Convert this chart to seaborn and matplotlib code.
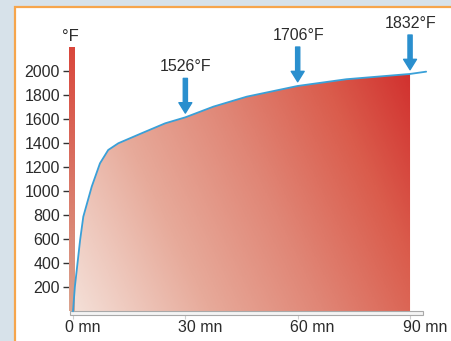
import numpy as np
import matplotlib
matplotlib.use('Agg')
import matplotlib.pyplot as plt
import seaborn as sns
import pandas as pd
from matplotlib.colors import LinearSegmentedColormap
from matplotlib.patches import Rectangle, Polygon
from matplotlib.transforms import ScaledTranslation

# fire curve: time (min) vs temperature (°F)
minutes = [0, 0.5, 1.9, 2.75, 5, 7.2, 9.4, 12.1, 18.3, 24.6, 30, 37.5, 46.4, 60, 73, 90, 94.3]
temps_f = [0, 205, 594, 788, 1038, 1232, 1343, 1399, 1482, 1565, 1615, 1704, 1787, 1876, 1932, 1976, 1995]

mark_minutes = [30, 60, 90]
mark_labels = ['1526°F', '1706°F', '1832°F']

xtick_vals = [0, 30, 60, 90]
xtick_labels = ['0 mn', '30 mn', '60 mn', '90 mn']
ytick_vals = [200, 400, 600, 800, 1000, 1200, 1400, 1600, 1800, 2000]

df = pd.DataFrame({'minutes': minutes, 'temp': temps_f})

sns.set_style('white')
plt.rcParams['font.family'] = ['Liberation Sans', 'DejaVu Sans']

W, H = 452, 341
fig = plt.figure(figsize=(W / 100, H / 100), dpi=100)
fig.patch.set_facecolor('#d7e2ea')

# white panel with orange frame
fig.patches.append(Rectangle((15 / W, -0.1), 1.2, 1 - 7 / H + 0.1, transform=fig.transFigure,
                             facecolor='white', edgecolor='#f6a54c', linewidth=1.6, zorder=-5))

x0, x1, y_bot, y_top = 73, 426, 311.3, 48
ax = fig.add_axes([x0 / W, (H - y_bot) / H, (x1 - x0) / W, (y_bot - y_top) / H])
ax.set_facecolor('none')
xmax = 94.26
ymax = 2192
for s in ax.spines.values():
    s.set_visible(False)

# gradient fill under the curve (0-90 mn)
cmap = LinearSegmentedColormap.from_list(
    'heat', [(0, '#f4e0d8'), (0.3, '#e7aa9a'), (0.55, '#e08676'), (0.8, '#da5c4c'), (1.0, '#d1302e')])
gx, gy = np.meshgrid(np.linspace(0, 90, 300), np.linspace(0, ymax, 300))
grad = 0.78 * gx / 90 + 0.27 * gy / 2000
im = ax.imshow(grad, extent=[0, 90, 0, ymax], origin='lower', cmap=cmap, vmin=0, vmax=1.05,
               aspect='auto', zorder=1)
t_arr = np.array(minutes)
T_arr = np.array(temps_f)
mask = t_arr <= 90
verts = np.column_stack([np.r_[t_arr[mask], 90, 0], np.r_[T_arr[mask], 0, 0]])
clip_poly = Polygon(verts, closed=True, facecolor='none', edgecolor='none', transform=ax.transData)
ax.add_patch(clip_poly)
im.set_clip_path(clip_poly)

sns.lineplot(data=df, x='minutes', y='temp', ax=ax, color='#3aa0d8', linewidth=1.3,
             zorder=4, sort=False, clip_on=False)
ax.set_xlabel('')
ax.set_ylabel('')

# red temperature bar (y axis)
bar_grad = np.linspace(0, 1, 200).reshape(-1, 1)
bar_cmap = LinearSegmentedColormap.from_list('bar', ['#dba48f', '#d9473c'])
ax.imshow(bar_grad, extent=[-1.07, 0.27, 0, ymax], origin='lower', cmap=bar_cmap,
          aspect='auto', zorder=3, clip_on=False)

# grey double bar (x axis)
ax.add_patch(Rectangle((-0.8, -33), 94.3, 33, facecolor='#f4f4f4', edgecolor='#a9a9a9',
                       linewidth=0.8, zorder=3, clip_on=False))

ax.set_xlim(0, xmax)
ax.set_ylim(0, ymax)
ax.set_yticks(ytick_vals)
ax.set_yticklabels([str(v) for v in ytick_vals])
ax.tick_params(axis='y', left=True, length=7.2, width=1.0, color='#333333', pad=2.2,
               labelsize=11.5, labelcolor='#2b2b2b')
ax.set_xticks(xtick_vals)
ax.set_xticklabels(xtick_labels)
ax.tick_params(axis='x', bottom=True, length=5.5, width=0.8, color='#cfcfcf', pad=0.5,
               labelsize=11.5, labelcolor='#2b2b2b')
for lbl in ax.get_xticklabels():
    lbl.set_horizontalalignment('left')
    lbl.set_transform(lbl.get_transform() + ScaledTranslation(-0.075, 0, fig.dpi_scale_trans))

ax.text(0, ymax, '°F', ha='center', va='bottom', fontsize=12, color='#2b2b2b',
        transform=ax.transData + ScaledTranslation(-0.03, 0.04, fig.dpi_scale_trans), clip_on=False)

# arrows with labels
for m, lab in zip(mark_minutes, mark_labels):
    tip = np.interp(m, minutes, temps_f) + 35
    ax.annotate('', xy=(m, tip), xytext=(0, 25), textcoords='offset points',
                arrowprops=dict(arrowstyle='simple,head_length=0.5,head_width=0.62,tail_width=0.2',
                                color='#2a8fce', shrinkA=0, shrinkB=0, mutation_scale=15),
                annotation_clip=False, zorder=5)
    ax.annotate(lab, xy=(m, tip), xytext=(0.5, 28), textcoords='offset points', ha='center',
                va='bottom', fontsize=11.5, color='#2b2b2b', annotation_clip=False)

fig.savefig('out.png', dpi=100, facecolor=fig.get_facecolor())
